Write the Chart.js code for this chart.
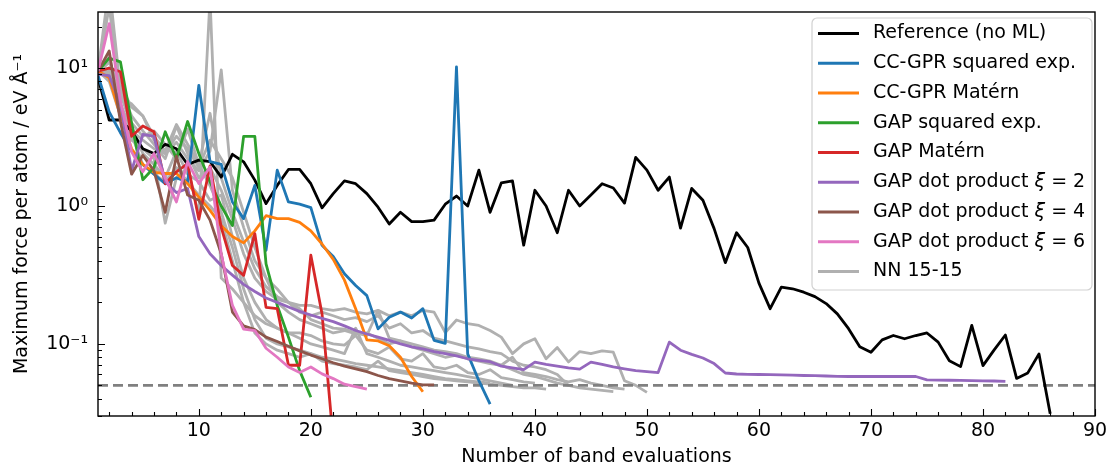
<!DOCTYPE html>
<html><head><meta charset="utf-8">
<script src="https://cdn.jsdelivr.net/npm/chart.js@4.4.0/dist/chart.umd.min.js"></script>
<style>html,body{margin:0;padding:0;background:#fff;} canvas{display:block;}</style>
</head><body>
<canvas id="c" width="1109" height="468"></canvas>
<script>
// ---------------- data ----------------
const xLimits = [1, 90];
const yLimits = [0.03, 25.5];
const thresholdValue = 0.05;
const xTickValues = [10, 20, 30, 40, 50, 60, 70, 80, 90];
const yTickValues = [0.1, 1, 10];
const yTickLabels = ['10\u207B\u00B9', '10\u2070', '10\u00B9'];
const xAxisTitle = 'Number of band evaluations';
const yAxisTitle = 'Maximum force per atom / eV \u00C5\u207B\u00B9';

const referenceNoML = [8.5, 4.2, 4.2, 3.5, 2.6, 2.4, 2.8, 2.6, 2.0, 2.15,
  2.1, 1.62, 2.37, 2.09, 1.54, 1.04, 1.41, 1.84, 1.84, 1.45,
  0.97, 1.23, 1.52, 1.45, 1.23, 0.98, 0.74, 0.9, 0.77, 0.77,
  0.79, 1.03, 1.18, 1.0, 1.82, 0.9, 1.47, 1.52, 0.52, 1.3,
  1.0, 0.64, 1.3, 1.0, 1.2, 1.45, 1.35, 1.05, 2.25, 1.82,
  1.30, 1.62, 0.69, 1.34, 1.1, 0.685, 0.388, 0.64, 0.50, 0.276,
  0.18, 0.258, 0.251, 0.237, 0.22, 0.196, 0.165, 0.129, 0.0955, 0.0869,
  0.107, 0.115, 0.109, 0.115, 0.120, 0.103, 0.0755, 0.0684, 0.136, 0.0695,
  0.0904, 0.116, 0.0562, 0.0616, 0.0846, 0.0311];
const ccgprSquaredExp = [8.9, 4.8, 3.4, 2.5, 2.0, 1.7, 1.45, 1.6, 1.5, 7.5,
  2.1, 2.0, 1.07, 0.81, 1.41, 0.477, 1.82, 1.07, 1.03, 0.974,
  0.518, 0.43, 0.323, 0.265, 0.224, 0.1285, 0.156, 0.17, 0.154, 0.18,
  0.106, 0.101, 10.2, 0.0846, 0.0541, 0.0366];
const ccgprMatern = [9.5, 8.5, 4.5, 2.6, 2.0, 1.75, 1.72, 1.72, 1.45, 1.16,
  0.93, 0.72, 0.6, 0.54, 0.66, 0.85, 0.81, 0.81, 0.76, 0.66,
  0.53, 0.41, 0.29, 0.18, 0.107, 0.105, 0.097, 0.08, 0.058, 0.045];
const gapSquaredExp = [9.5, 11.8, 11.1, 4.0, 1.55, 1.9, 3.45, 2.2, 4.1, 2.4,
  1.5, 1.0, 0.72, 3.2, 3.2, 0.38, 0.19, 0.112, 0.064, 0.041];
const gapMatern = [9.5, 10.0, 9.4, 3.2, 3.8, 3.45, 1.45, 1.77, 2.03, 0.8,
  1.95, 0.7, 0.37, 0.314, 0.63, 0.184, 0.18, 0.07, 0.07, 0.44,
  0.165, 0.02];
const gapDotXi2 = [9.0, 8.8, 5.5, 1.8, 3.3, 3.2, 1.5, 1.25, 1.34, 0.6,
  0.45, 0.37, 0.315, 0.27, 0.24, 0.215, 0.2, 0.185, 0.172, 0.162,
  0.153, 0.145, 0.135, 0.125, 0.118, 0.112, 0.106, 0.1, 0.095, 0.092,
  0.088, 0.085, 0.082, 0.078, 0.076, 0.0743, 0.069, 0.067, 0.065, 0.0737,
  0.071, 0.069, 0.067, 0.0656, 0.0737, 0.071, 0.068, 0.066, 0.064, 0.063,
  0.062, 0.103, 0.09, 0.084, 0.079, 0.072, 0.0615, 0.0605, 0.0602, 0.06,
  0.0598, 0.0596, 0.0593, 0.059, 0.0588, 0.0585, 0.0582, 0.058, 0.058, 0.058,
  0.058, 0.058, 0.058, 0.058, 0.0548, 0.0546, 0.0545, 0.0543, 0.0541, 0.054,
  0.0538, 0.0535];
const gapDotXi4 = [9.5, 13.3, 4.1, 1.7, 2.33, 1.8, 0.9, 2.3, 1.2, 1.1,
  0.79, 0.45, 0.17, 0.135, 0.127, 0.112, 0.104, 0.096, 0.089, 0.083,
  0.078, 0.073, 0.069, 0.066, 0.063, 0.059, 0.056, 0.054, 0.052, 0.0505,
  0.0505];
const gapDotXi6 = [9.5, 21, 5.8, 2.47, 1.77, 2.4, 1.6, 1.07, 2.1, 1.45,
  1.92, 0.45, 0.19, 0.128, 0.125, 0.093, 0.08, 0.068, 0.062, 0.068,
  0.0606, 0.056, 0.051, 0.049, 0.047];
const nnRun1 = [9.5, 40, 7, 4.5, 3.5, 2.8, 2.2, 3.8, 2.4, 1.6,
  1.9, 1.3, 0.8, 0.45, 0.3, 0.24, 0.21, 0.2, 0.19, 0.19,
  0.18, 0.175, 0.18, 0.17, 0.165, 0.175, 0.16, 0.17, 0.16, 0.175,
  0.17, 0.121, 0.149, 0.14, 0.136, 0.125, 0.112, 0.085, 0.1, 0.109,
  0.078, 0.094, 0.074, 0.088, 0.085, 0.089, 0.087, 0.054, 0.05, 0.0445];
const nnRun2 = [9.2, 28, 6, 5.5, 4.5, 3.2, 2.5, 3.9, 2.8, 2.0,
  4.7, 1.6, 0.9, 0.55, 0.35, 0.26, 0.22, 0.2, 0.17, 0.16,
  0.17, 0.16, 0.15, 0.155, 0.145, 0.16, 0.13, 0.14, 0.12, 0.125,
  0.11, 0.105, 0.1, 0.095, 0.092, 0.088, 0.085, 0.075, 0.07, 0.068,
  0.065, 0.06, 0.05];
const nnRun3 = [9.0, 9.5, 5, 3.0, 2.6, 2.2, 0.75, 1.6, 1.9, 0.85,
  32, 0.3, 0.25, 0.2, 0.16, 0.14, 0.13, 0.12, 0.12, 0.115,
  0.105, 0.1, 0.098, 0.115, 0.09, 0.085, 0.095, 0.078, 0.075, 0.085,
  0.068, 0.066, 0.07, 0.062, 0.06, 0.065, 0.057, 0.055, 0.053, 0.052];
const nnRun4 = [9.8, 12, 5.5, 3.5, 3.0, 2.6, 2.4, 2.9, 2.2, 1.8,
  2.5, 9.7, 1.3, 0.7, 0.4, 0.3, 0.25, 0.2, 0.18, 0.15,
  0.14, 0.13, 0.128, 0.12, 0.115, 0.175, 0.11, 0.105, 0.1, 0.095,
  0.09, 0.088, 0.085, 0.08, 0.078, 0.075, 0.07, 0.065, 0.06, 0.058,
  0.055, 0.052, 0.05, 0.048, 0.047, 0.046, 0.045];
const nnRun5 = [9.0, 10, 6.5, 3.8, 2.4, 2.0, 1.6, 2.5, 1.7, 1.5,
  1.1, 1.2, 0.6, 0.3, 0.2, 0.15, 0.13, 0.12, 0.11, 0.1,
  0.095, 0.09, 0.085, 0.13, 0.085, 0.08, 0.075, 0.07, 0.068, 0.066,
  0.064, 0.062, 0.06, 0.058, 0.056, 0.054, 0.052, 0.05];
const nnRun6 = [9.5, 9, 5, 4, 3.2, 3.5, 2.8, 2.2, 3.6, 2.0,
  1.4, 0.9, 0.5, 0.25, 0.15, 0.11, 0.1, 0.095, 0.09, 0.085,
  0.08, 0.078, 0.075, 0.072, 0.07, 0.068, 0.066, 0.064, 0.062, 0.06,
  0.058, 0.056, 0.055, 0.054, 0.053, 0.052];
const nnRun7 = [9.3, 11, 7.5, 5.2, 4.5, 3.0, 2.4, 3.2, 2.6, 1.9,
  3.0, 2.2, 1.6, 0.9, 0.5, 0.3, 0.2, 0.17, 0.15, 0.14,
  0.13, 0.12, 0.125, 0.118, 0.12, 0.11, 0.1, 0.105, 0.095, 0.09,
  0.085, 0.08, 0.083, 0.078, 0.075, 0.072, 0.07, 0.08, 0.062, 0.06,
  0.058, 0.055, 0.053, 0.055, 0.052, 0.05, 0.048, 0.047];
const nnRun8 = [9.6, 8, 4.5, 3.3, 2.0, 1.7, 1.5, 1.9, 1.5, 1.2,
  1.0, 0.8, 0.4, 0.2, 0.12, 0.1, 0.09, 0.085, 0.08, 0.085,
  0.075, 0.072, 0.07, 0.068, 0.065, 0.075, 0.064, 0.062, 0.06, 0.058,
  0.056, 0.055, 0.054, 0.053, 0.052, 0.051, 0.05, 0.049, 0.048, 0.048,
  0.047];

const seriesLabels = ['Reference (no ML)', 'CC-GPR squared exp.', 'CC-GPR Mat\u00E9rn',
  'GAP squared exp.', 'GAP Mat\u00E9rn', 'GAP dot product \u03BE = 2',
  'GAP dot product \u03BE = 4', 'GAP dot product \u03BE = 6', 'NN 15-15'];
const seriesValues = [referenceNoML, ccgprSquaredExp, ccgprMatern, gapSquaredExp,
  gapMatern, gapDotXi2, gapDotXi4, gapDotXi6];
const nnRuns = [nnRun1, nnRun2, nnRun3, nnRun4, nnRun5, nnRun6, nnRun7, nnRun8];

// ---------------- styles ----------------
const seriesColors = ['#000000', '#1f77b4', '#ff7f0e', '#2ca02c', '#d62728',
  '#9467bd', '#8c564b', '#e377c2', '#b0b0b0'];
const FONT = '"DejaVu Sans", "Liberation Sans", sans-serif';
const FS = 19;
const LW = 2.8;

const toPoints = arr => arr.map((v, i) => ({x: i + 1, y: v}));

const datasets = [];
nnRuns.forEach((run, i) => {
  datasets.push({label: seriesLabels[8], data: toPoints(run), borderColor: seriesColors[8],
    borderWidth: LW, pointRadius: 0, tension: 0, fill: false, order: 20,
    showInLegend: i === 0});
});
datasets.push({label: 'threshold', data: [{x: xLimits[0], y: thresholdValue}, {x: xLimits[1], y: thresholdValue}],
  borderColor: '#808080', borderWidth: LW, borderDash: [10, 5], pointRadius: 0, order: 10, showInLegend: false});
seriesValues.forEach((vals, i) => {
  datasets.push({label: seriesLabels[i], data: toPoints(vals), borderColor: seriesColors[i],
    borderWidth: LW, pointRadius: 0, tension: 0, fill: false, order: 9 - i, showInLegend: true});
});

// ---------------- plugins ----------------
const axesDecor = {
  id: 'axesDecor',
  afterDatasetsDraw(chart) {
    const {ctx, chartArea: a, scales: {x, y}} = chart;
    ctx.save();
    ctx.strokeStyle = '#000';
    ctx.lineWidth = 1.1;
    ctx.beginPath();
    for (let v = 2; v <= xLimits[1]; v += 2) {
      const px = Math.round(x.getPixelForValue(v)) + 0.5;
      const len = v % 10 === 0 ? 7 : 4;
      ctx.moveTo(px, a.bottom); ctx.lineTo(px, a.bottom - len);
    }
    for (let d = -2; d <= 1; d++) {
      for (let m = 1; m <= 9; m++) {
        const v = m * Math.pow(10, d);
        if (v < yLimits[0] || v > yLimits[1]) continue;
        const py = Math.round(y.getPixelForValue(v)) + 0.5;
        const len = m === 1 ? 7 : 4;
        ctx.moveTo(a.left, py); ctx.lineTo(a.left + len, py);
      }
    }
    ctx.stroke();
    ctx.lineWidth = 1.4;
    ctx.strokeRect(a.left, a.top, a.right - a.left, a.bottom - a.top);
    ctx.restore();
  },
  afterDraw(chart) {
    const {ctx} = chart;
    const items = chart.data.datasets.filter(d => d.showInLegend);
    const order = seriesLabels.map(l => items.find(d => d.label === l)).filter(Boolean);
    const bx = 812, by = 18, bw = 280, bh = 272, r = 5;
    ctx.save();
    ctx.beginPath();
    ctx.moveTo(bx + r, by);
    ctx.arcTo(bx + bw, by, bx + bw, by + bh, r);
    ctx.arcTo(bx + bw, by + bh, bx, by + bh, r);
    ctx.arcTo(bx, by + bh, bx, by, r);
    ctx.arcTo(bx, by, bx + bw, by, r);
    ctx.closePath();
    ctx.fillStyle = 'rgba(255,255,255,0.8)';
    ctx.fill();
    ctx.strokeStyle = 'rgba(204,204,204,0.9)';
    ctx.lineWidth = 1.2;
    ctx.stroke();
    ctx.textBaseline = 'middle';
    ctx.textAlign = 'left';
    order.forEach((d, i) => {
      const yy = 33.5 + i * 29.75;
      ctx.strokeStyle = d.borderColor;
      ctx.lineWidth = LW;
      ctx.setLineDash([]);
      ctx.beginPath(); ctx.moveTo(818, yy); ctx.lineTo(859, yy); ctx.stroke();
      ctx.fillStyle = '#000';
      const parts = d.label.split('\u03BE');
      let tx = 873;
      ctx.font = FS + 'px ' + FONT;
      ctx.fillText(parts[0], tx, yy);
      if (parts.length > 1) {
        tx += ctx.measureText(parts[0]).width;
        ctx.font = 'italic ' + FS + 'px ' + FONT;
        ctx.fillText('\u03BE', tx, yy);
        tx += ctx.measureText('\u03BE').width;
        ctx.font = FS + 'px ' + FONT;
        ctx.fillText(parts[1], tx, yy);
      }
    });
    ctx.restore();
  }
};

new Chart(document.getElementById('c'), {
  type: 'line',
  data: {datasets},
  options: {
    responsive: false,
    animation: false,
    devicePixelRatio: 1,
    layout: {padding: {left: 0, right: 14, top: 12, bottom: 0}},
    plugins: {legend: {display: false}, tooltip: {enabled: false}},
    elements: {line: {borderCapStyle: 'butt', borderJoinStyle: 'round'}},
    scales: {
      x: {
        type: 'linear', min: xLimits[0], max: xLimits[1],
        grid: {display: false, drawTicks: false},
        border: {display: false},
        afterBuildTicks: s => { s.ticks = xTickValues.map(v => ({value: v})); },
        afterFit: s => { s.height = 52; s.paddingLeft = 0; s.paddingRight = 0; s.paddingTop = 0; s.paddingBottom = 0; },
        ticks: {color: '#000', font: {family: FONT, size: FS}, padding: 4, maxRotation: 0,
          callback: v => String(v)},
        title: {display: true, text: xAxisTitle, color: '#000', font: {family: FONT, size: FS},
          padding: {top: 0, bottom: 0}}
      },
      y: {
        type: 'logarithmic', min: yLimits[0], max: yLimits[1],
        grid: {display: false, drawTicks: false},
        border: {display: false},
        afterBuildTicks: s => { s.ticks = yTickValues.map(v => ({value: v})); },
        afterFit: s => { s.width = 98; s.paddingLeft = 0; s.paddingRight = 0; s.paddingTop = 0; s.paddingBottom = 0; },
        ticks: {color: '#000', font: {family: FONT, size: FS}, padding: 10,
          callback: v => { const i = yTickValues.indexOf(v); return i >= 0 ? yTickLabels[i] : ''; }},
        title: {display: true, text: yAxisTitle, color: '#000', font: {family: FONT, size: FS},
          padding: {top: 10.5, bottom: 0}}
      }
    }
  },
  plugins: [axesDecor]
});
</script>
</body></html>
